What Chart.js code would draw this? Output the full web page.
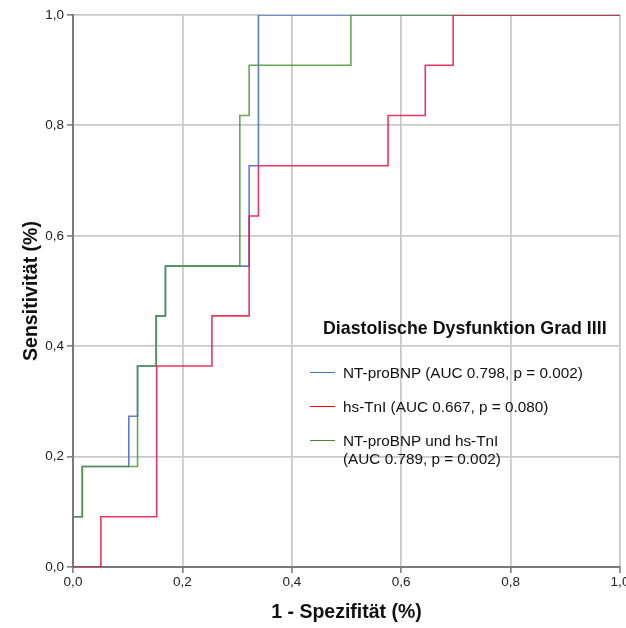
<!DOCTYPE html>
<html lang="de">
<head>
<meta charset="utf-8">
<title>ROC Diastolische Dysfunktion</title>
<script src="https://cdn.jsdelivr.net/npm/chart.js@4"></script>
<style>
    html, body { margin: 0; padding: 0; background: #fff; }
    #wrap { position: relative; width: 626px; height: 628px; }
    #roc { display: block; }
    .legend { position: absolute; left: 310px; top: 318px; font-family: "Liberation Sans", Arial, sans-serif; color: #111; }
    .legend-title { position: absolute; left: 13px; top: 0; white-space: nowrap; font-weight: bold; font-size: 17.8px; line-height: 20px; }
    .legend-item { position: absolute; left: 0; white-space: nowrap; font-size: 15.3px; line-height: 18px; }
    .legend-item .swatch { position: absolute; left: 0; top: 8px; width: 25px; height: 0; border-top: 1.6px solid; }
    .legend-item .label { position: absolute; left: 33px; top: 0; }
</style>
</head>
<body>
<div id="wrap">
    <canvas id="roc" width="626" height="628"></canvas>
    <div class="legend" id="legend">
        <div class="legend-title">Diastolische Dysfunktion Grad IIII</div>
    </div>
</div>
<script>
// ROC threshold points (1 - Spezifität, Sensitivität)
const bnpFpr   = [0, 0, 0.017, 0.102, 0.118, 0.152, 0.169, 0.322, 0.339, 1];
const bnpTpr   = [0, 0.091, 0.182, 0.273, 0.364, 0.455, 0.545, 0.727, 1, 1];

const tniFpr   = [0, 0.051, 0.153, 0.254, 0.322, 0.339, 0.576, 0.644, 0.695, 1];
const tniTpr   = [0, 0.091, 0.364, 0.455, 0.636, 0.727, 0.818, 0.909, 1, 1];

const comboFpr = [0, 0, 0.017, 0.118, 0.152, 0.169, 0.305, 0.322, 0.508, 1];
const comboTpr = [0, 0.091, 0.182, 0.364, 0.455, 0.545, 0.818, 0.909, 1, 1];

const seriesNames = [
    'NT-proBNP (AUC 0.798, p = 0.002)',
    'hs-TnI (AUC 0.667, p = 0.080)',
    'NT-proBNP und hs-TnI\n(AUC 0.789, p = 0.002)'
];
const tickValues = [0, 0.2, 0.4, 0.6, 0.8, 1.0];

const colors = ['rgba(62,102,212,0.85)', 'rgba(232,20,66,0.85)', 'rgba(78,150,56,0.85)'];
const legendColors = ['#4472c4', '#ff0000', '#548235'];

const toPoints = (xs, ys) => xs.map((x, i) => ({ x, y: ys[i] }));
const fmt = v => v.toFixed(1).replace('.', ',');
const FONT = '"Liberation Sans", Arial, sans-serif';

const curves = [
    { data: toPoints(tniFpr, tniTpr),     color: colors[1] },
    { data: toPoints(comboFpr, comboTpr), color: colors[2] },
    { data: toPoints(bnpFpr, bnpTpr),     color: colors[0] }
];

new Chart(document.getElementById('roc'), {
    type: 'scatter',
    data: {
        datasets: curves.map(c => ({
            data: c.data,
            showLine: true,
            stepped: 'before',
            borderColor: c.color,
            borderWidth: 1.6,
            pointRadius: 0,
            pointHoverRadius: 0,
            fill: false
        }))
    },
    options: {
        responsive: false,
        animation: false,
        events: [],
        layout: { padding: { top: 15, right: 6, left: 0, bottom: 0 } },
        plugins: { legend: { display: false }, tooltip: { enabled: false } },
        scales: {
            x: {
                type: 'linear',
                min: 0, max: 1,
                afterBuildTicks: s => { s.ticks = tickValues.map(v => ({ value: v })); },
                afterFit: s => { s.height = 61; s.paddingLeft = 0; s.paddingRight = 0; },
                ticks: { callback: fmt, color: '#222', padding: 1, maxRotation: 0, font: { family: FONT, size: 13.5 } },
                grid: { color: '#c9c9c9', lineWidth: 1.8, tickLength: 6, tickColor: '#777', tickWidth: 1.5 },
                border: { color: '#7a7a7a', width: 2 },
                title: { display: true, text: '1 - Spezifität (%)', color: '#111', padding: { top: 0, bottom: 4 }, font: { family: FONT, size: 19.5, weight: 'bold' } }
            },
            y: {
                type: 'linear',
                min: 0, max: 1,
                afterBuildTicks: s => { s.ticks = tickValues.map(v => ({ value: v })); },
                afterFit: s => { s.width = 73; },
                ticks: { callback: fmt, color: '#222', padding: 3, font: { family: FONT, size: 13.5 } },
                grid: { color: '#c9c9c9', lineWidth: 1.8, tickLength: 6, tickColor: '#777', tickWidth: 1.5 },
                border: { color: '#7a7a7a', width: 2 },
                title: { display: true, text: 'Sensitivität (%)', color: '#111', padding: { top: 20, bottom: 0 }, font: { family: FONT, size: 19.5, weight: 'bold' } }
            }
        }
    }
});

// legend inside the plot area, lines sit on top of the grid
const legend = document.getElementById('legend');
const rows = [46, 80, 114];
seriesNames.forEach((name, i) => {
    const item = document.createElement('div');
    item.className = 'legend-item';
    item.style.top = rows[i] + 'px';
    item.innerHTML = `<span class="swatch" style="border-color:${legendColors[i]}"></span>` +
        `<span class="label">${name.replace('\n', '<br>')}</span>`;
    legend.appendChild(item);
});
</script>
</body>
</html>
